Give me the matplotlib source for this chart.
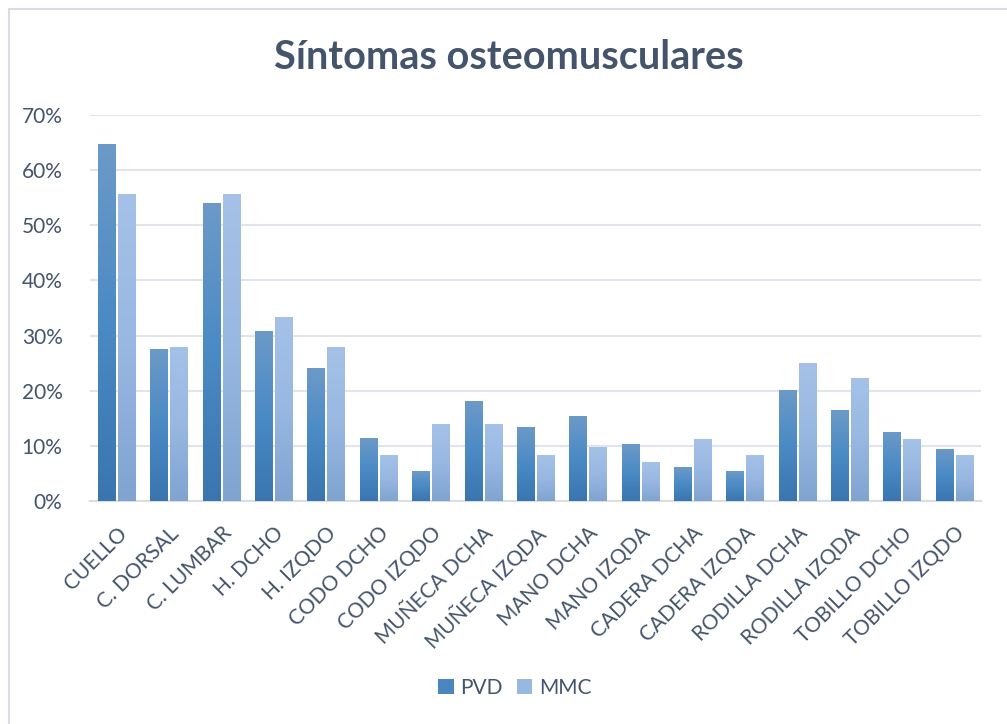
import numpy as np
import matplotlib
matplotlib.use("Agg")
import matplotlib.pyplot as plt
from matplotlib.colors import LinearSegmentedColormap
from matplotlib.patches import Rectangle, Patch

categories = ["CUELLO", "C. DORSAL", "C. LUMBAR", "H. DCHO", "H. IZQDO",
              "CODO DCHO", "CODO IZQDO", "MUÑECA DCHA", "MUÑECA IZQDA",
              "MANO DCHA", "MANO IZQDA", "CADERA DCHA", "CADERA IZQDA",
              "RODILLA DCHA", "RODILLA IZQDA", "TOBILLO DCHO", "TOBILLO IZQDO"]
pvd = [64.7, 27.4, 54.0, 30.8, 24.0, 11.4, 5.4, 18.1, 13.4,
       15.4, 10.3, 6.0, 5.4, 20.1, 16.5, 12.5, 9.4]
mmc = [55.6, 27.8, 55.6, 33.3, 27.8, 8.3, 13.9, 13.9, 8.3,
       9.7, 6.9, 11.1, 8.3, 25.0, 22.2, 11.1, 8.3]
yticks = [0, 10, 20, 30, 40, 50, 60, 70]

text_color = "#44546A"
grid_color = "#E1E5EB"
plt.rcParams["font.family"] = ["Lato", "DejaVu Sans"]

# gradient colours: bottom, middle, top
pvd_cmap = LinearSegmentedColormap.from_list("pvd", ["#3A75AF", "#4A8AC5", "#6C9AC8"])
mmc_cmap = LinearSegmentedColormap.from_list("mmc", ["#80A3D0", "#98B8E2", "#A5C1E7"])

fig = plt.figure(figsize=(10.07, 7.24), dpi=100)
fig.patches.append(Rectangle((9 / 1007, -0.1), 1.2, 1 - 9 / 724 + 0.1,
                             transform=fig.transFigure, fill=False,
                             edgecolor="#D9DDE3", linewidth=1.5))
ax = fig.add_axes([0.0897, 0.308, 0.884, 0.533])

x = np.arange(len(categories))
bw = 0.325
off = 0.191
grad = np.linspace(0, 1, 256).reshape(-1, 1)
for xi, v in zip(x, pvd):
    ax.imshow(grad, cmap=pvd_cmap, origin="lower", aspect="auto",
              extent=[xi - off - bw / 2, xi - off + bw / 2, 0, v / 100], zorder=3)
for xi, v in zip(x, mmc):
    ax.imshow(grad, cmap=mmc_cmap, origin="lower", aspect="auto",
              extent=[xi + off - bw / 2, xi + off + bw / 2, 0, v / 100], zorder=3)

ax.set_xlim(-0.5, len(categories) - 0.5)
ax.set_ylim(0, 0.7)
ax.set_yticks([t / 100 for t in yticks])
ax.set_yticklabels([f"{t}%" for t in yticks])
ax.grid(axis="y", color=grid_color, linewidth=1.5, zorder=0)
ax.set_axisbelow(True)
ax.set_xticks(x)
ax.set_xticklabels(categories, rotation=45, ha="right", rotation_mode="anchor")
ax.tick_params(axis="both", length=0, colors=text_color, labelsize=15)
ax.tick_params(axis="y", pad=20)
ax.tick_params(axis="x", pad=16)
for s in ["top", "right", "left"]:
    ax.spines[s].set_visible(False)
ax.spines["bottom"].set_color("#D9DEE4")
ax.spines["bottom"].set_linewidth(1.5)

fig.text(0.505, 0.921, "Síntomas osteomusculares", ha="center", va="center",
         fontsize=28.5, fontweight="bold", color=text_color)

handles = [Patch(facecolor="#4A86BF", label="PVD"),
           Patch(facecolor="#98B8E2", label="MMC")]
fig.legend(handles=handles, loc="center", bbox_to_anchor=(0.511, 0.05), ncol=2,
           frameon=False, fontsize=15, labelcolor=text_color,
           handlelength=0.75, handleheight=0.75, handletextpad=0.3, columnspacing=0.7)

fig.savefig("out.png", dpi=100, facecolor="white")
